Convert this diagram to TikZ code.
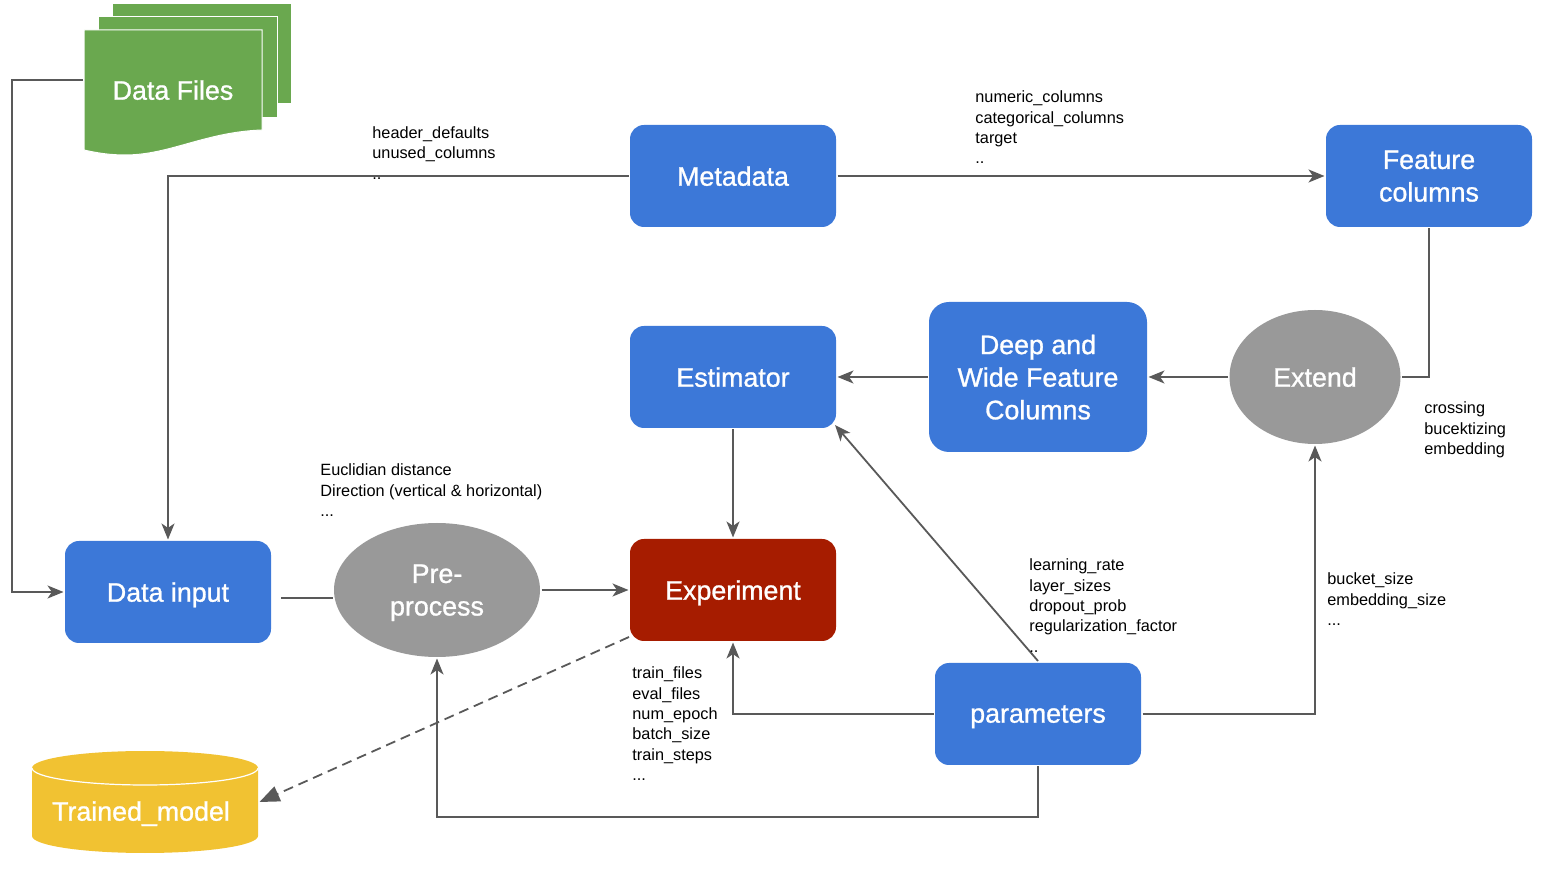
\documentclass[tikz,border=0pt]{standalone}
\usepackage{fontspec}
\setmainfont{Liberation Sans}
\newfontfamily\titlefont[FakeBold=1]{Liberation Sans}
\usetikzlibrary{arrows.meta,shapes.geometric,calc}
\definecolor{boxblue}{HTML}{3C78D8}
\definecolor{filegreen}{HTML}{6AA84F}
\definecolor{exred}{HTML}{A61C00}
\definecolor{modelyellow}{HTML}{F1C232}
\definecolor{ovalgray}{HTML}{999999}
\definecolor{linkgray}{HTML}{595959}
\tikzset{
  title/.style={text=white,font=\titlefont\fontsize{13.4}{16.3}\selectfont,align=center,inner sep=0pt,outer sep=0.75pt,text depth=0pt},
  boxnode/.style={title,rectangle,rounded corners=7pt,fill=boxblue,minimum width=103pt,minimum height=51pt},
  ovalnode/.style={title,ellipse,fill=ovalgray},
  hint/.style={anchor=north west,align=left,inner sep=0pt,font=\fontsize{8.15}{10.2}\selectfont},
  link/.style={draw=linkgray,line width=0.9pt},
  arrowlink/.style={link,-{Stealth[length=8pt,width=6.5pt,inset=2.2pt]}},
  sheet/.style={fill=filegreen,draw=white,line width=0.5pt},
}
\begin{document}
\begin{tikzpicture}[x=0.5pt,y=-0.5pt]
      \useasboundingbox (0,0) rectangle (1542,886);
      \begin{scope}
        % stacked files
        \draw[sheet] (112,4) rectangle (291,104);
        \draw[sheet] (98,17) rectangle (277,118);
        \draw[sheet] (84,30) -- (262,30) -- (262,130) .. controls (205,132) and (170,155) .. (125,155)
          .. controls (110,155) and (97,153) .. (84,150) -- cycle;
        \node[title,minimum width=89pt,minimum height=60pt] (files) at (173,90) {Data Files};
        % database
        \fill[modelyellow] (32,768) arc[start angle=180,end angle=360,x radius=113,y radius=17]
          -- (258,836) arc[start angle=0,end angle=180,x radius=113,y radius=17] -- cycle;
        \draw[white,line width=0.6pt] (32,768) arc[start angle=180,end angle=0,x radius=113,y radius=17];
        \node[title,minimum width=113pt,minimum height=51pt] (trained) at (145,802) {};
        \node[title] (trainedtext) at (141,811) {Trained\_model};
      \end{scope}
      \begin{scope}
        \node[boxnode] (meta) at (733,176) {Metadata};
        \node[boxnode] (feat) at (1429,176) {Feature\\columns};
        \node[boxnode] (est) at (733,377) {Estimator};
        \node[boxnode,minimum width=109pt,minimum height=75pt,rounded corners=10pt] (deep) at (1038,377) {Deep and\\Wide Feature\\Columns};
        \node[boxnode] (input) at (168,592) {Data input};
        \node[boxnode,fill=exred] (exper) at (733,590) {Experiment};
        \node[boxnode] (params) at (1038,714) {parameters};
        \node[ovalnode,minimum width=85.5pt,minimum height=67pt] (extend) at (1315,377) {Extend};
        \node[ovalnode,minimum width=103pt,minimum height=67pt] (pre) at (437,590) {Pre-\\process};
      \end{scope}
      \begin{scope}
        \coordinate (filesout) at (83,80);
        \coordinate (inputout) at (281,598);
        \coordinate (prein) at (333,598);
        \coordinate (expercorner) at (629,637);
        \coordinate (estcorner) at (835,425);
        \coordinate (paramstop) at (1038,661);
      \end{scope}
      \begin{scope}
        \draw[arrowlink] (filesout) -- (12,80) |- (input.west);
        \draw[arrowlink] (meta.west) -| (input.north);
        \draw[arrowlink] (meta.east) -- (feat.west);
        \draw[link] (feat.south) |- (extend.east);
        \draw[arrowlink] (extend.west) -- (deep.east);
        \draw[arrowlink] (deep.west) -- (est.east);
        \draw[arrowlink] (est.south) -- (exper.north);
        \draw[link] (inputout) -- (prein);
        \draw[arrowlink] (pre.east) -- (exper.west);
        \draw[arrowlink] (params.west) -| (exper.south);
        \draw[arrowlink] (params.east) -| (extend.south);
        \draw[arrowlink] (params.south) -- (1038,817) -| (pre.south);
        \draw[arrowlink] (paramstop) -- (estcorner);
        \draw[link,dashed,dash pattern=on 5pt off 3pt,-{Stealth[length=10pt,width=8pt,inset=0pt]}] (expercorner) -- (trained.east);
      \end{scope}
      \begin{scope}
        \node[hint] (headerhint) at (372,126) {header\_defaults\\unused\_columns\\..};
        \node[hint] (numerichint) at (975,90.5) {numeric\_columns\\categorical\_columns\\target\\..};
        \node[hint] (crossinghint) at (1424,401.5) {crossing\\bucektizing\\embedding};
        \node[hint] (euclidhint) at (320,463.5) {Euclidian distance\\Direction (vertical \& horizontal)\\...};
        \node[hint] (learninghint) at (1029,558.5) {learning\_rate\\layer\_sizes\\dropout\_prob\\regularization\_factor\\..};
        \node[hint] (buckethint) at (1327,572.5) {bucket\_size\\embedding\_size\\...};
        \node[hint] (trainhint) at (632,666.5) {train\_files\\eval\_files\\num\_epoch\\batch\_size\\train\_steps\\...};
      \end{scope}
    \end{tikzpicture}
\end{document}
